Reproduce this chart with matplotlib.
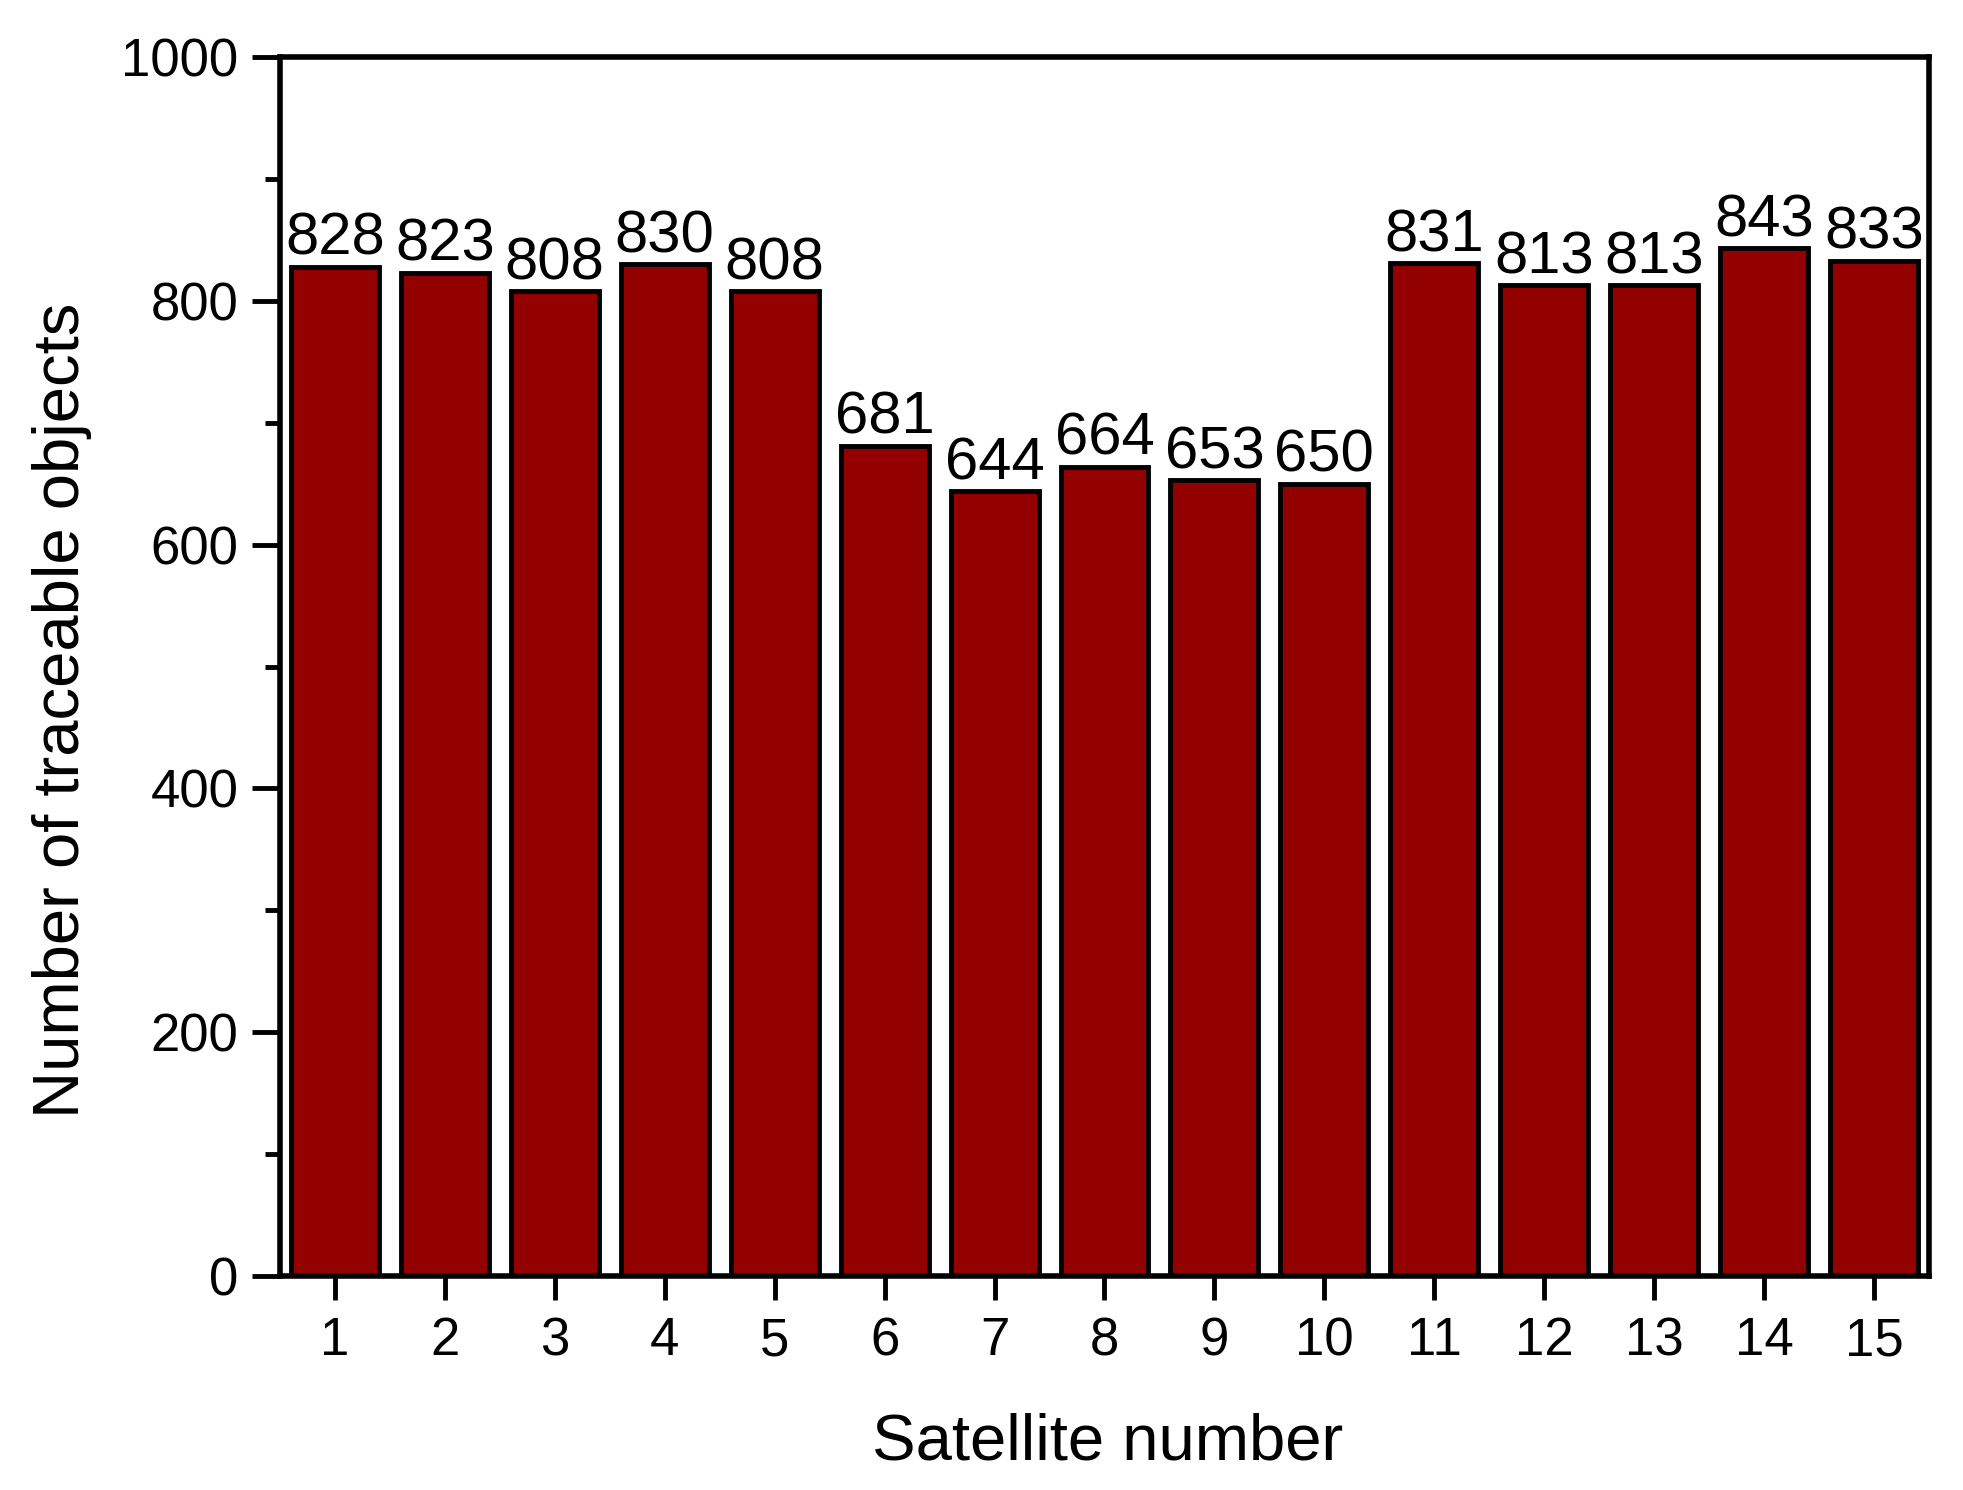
import matplotlib.pyplot as plt
from matplotlib.ticker import MultipleLocator

satellites = list(range(1, 16))
objects = [828, 823, 808, 830, 808, 681, 644, 664, 653, 650, 831, 813, 813, 843, 833]

plt.rcParams['font.family'] = ['Liberation Sans', 'DejaVu Sans']

fig = plt.figure(figsize=(19.63, 14.90), dpi=100)
ax = fig.add_axes([0.1426, 0.1436, 0.8401, 0.8181])

bars = ax.bar(satellites, objects, width=0.8, color='#930000',
              edgecolor='black', linewidth=3.5)
ax.bar_label(bars, labels=[str(v) for v in objects], padding=0, fontsize=43)

ax.set_xlim(0.5, 15.5)
ax.set_ylim(0, 1000)
ax.set_xticks(satellites)
ax.yaxis.set_major_locator(MultipleLocator(200))
ax.yaxis.set_minor_locator(MultipleLocator(100))

for s in ax.spines.values():
    s.set_linewidth(4)

ax.tick_params(axis='x', which='major', direction='out', length=17, width=3.5,
               labelsize=38, pad=12)
ax.tick_params(axis='y', which='major', direction='out', length=20, width=3.5,
               labelsize=38, pad=10)
ax.tick_params(axis='y', which='minor', direction='out', length=11, width=3.5)

ax.set_xlabel('Satellite number', fontsize=47)
ax.set_ylabel('Number of traceable objects', fontsize=47)
ax.xaxis.set_label_coords(0.502, -0.112)
ax.yaxis.set_label_coords(-0.114, 0.464)

fig.savefig('out.png', dpi=100)
